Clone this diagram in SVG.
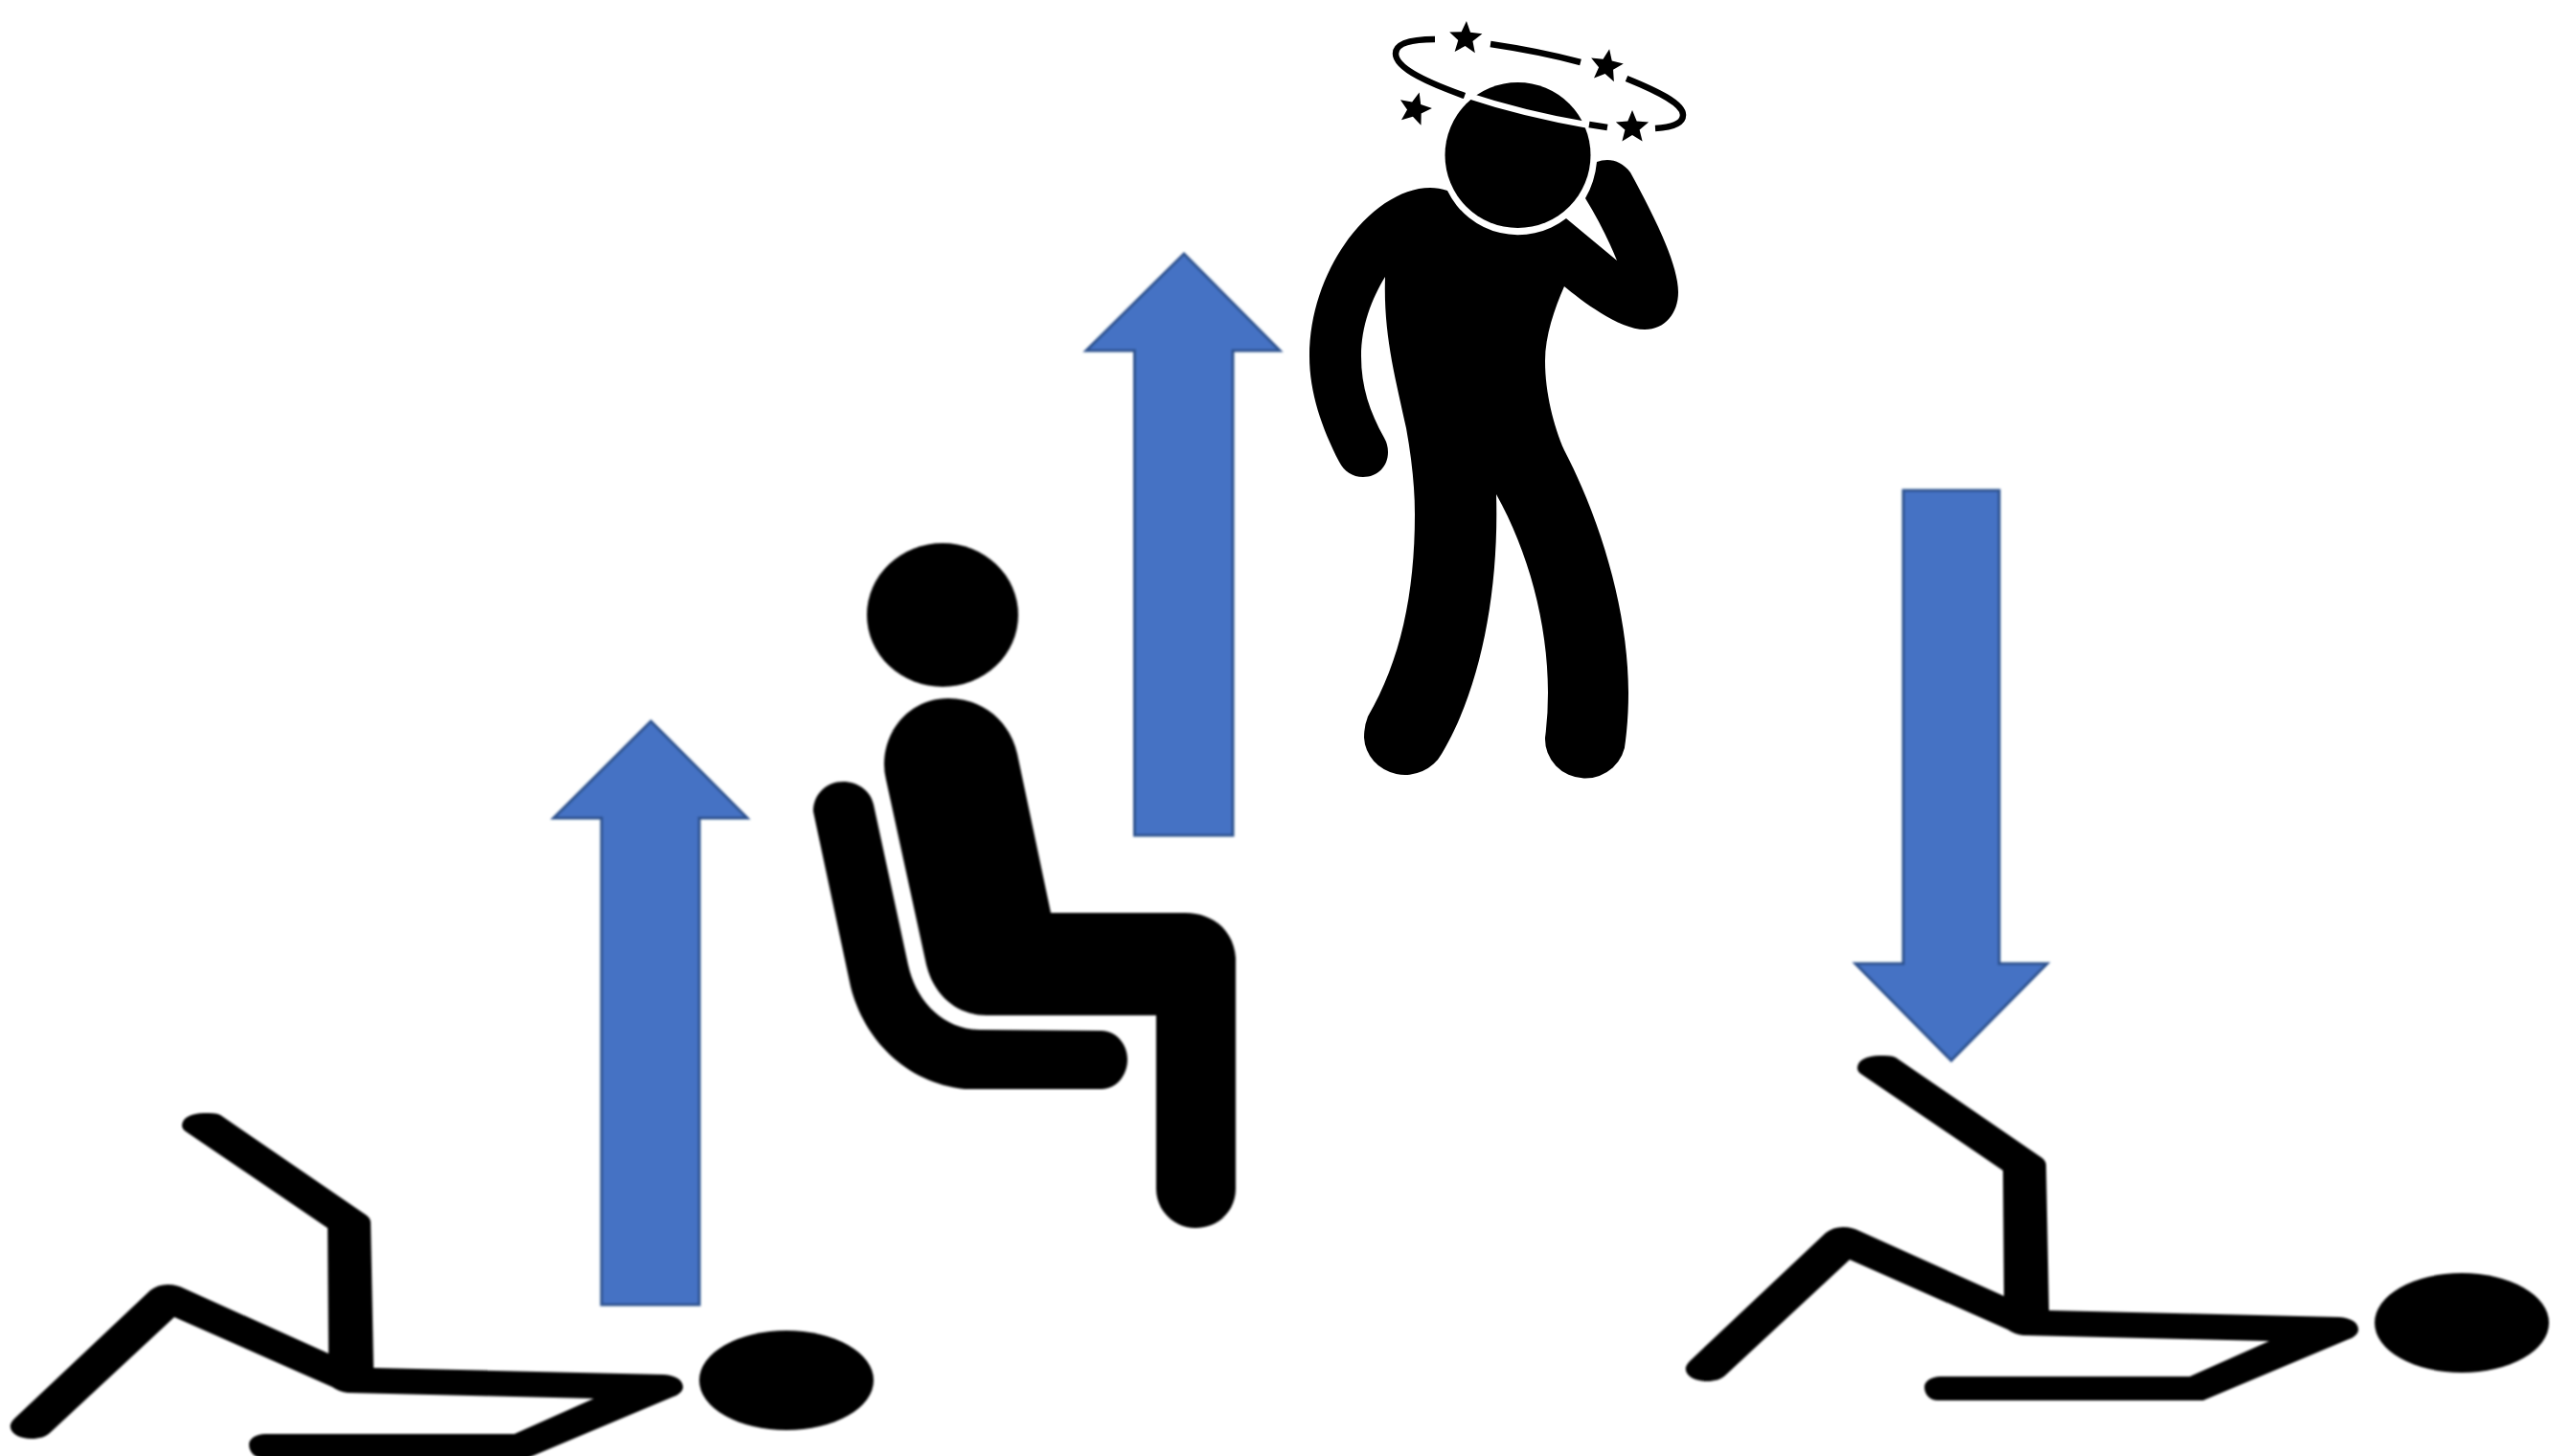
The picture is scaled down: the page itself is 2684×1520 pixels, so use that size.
<svg xmlns="http://www.w3.org/2000/svg" width="2684" height="1520" viewBox="0 0 2684 1520">
<style>
.ink{fill:#000}
.arrow{fill:#4472c4;stroke:#2f528f;stroke-width:3}
.ring{fill:none;stroke:#000;stroke-width:6.5}
.soft{filter:url(#soft)}
</style>
<defs>
<filter id="soft" x="-5%" y="-5%" width="110%" height="110%"><feGaussianBlur stdDeviation="0.8"/></filter>
<polygon id="star" points="0,-18 4.7,-6.5 17.1,-5.6 7.6,2.5 10.6,14.6 0,8 -10.6,14.6 -7.6,2.5 -17.1,-5.6 -4.7,-6.5"/>
<g id="lying" class="ink">
<path d="M190,1175 C190,1167 200,1162 213,1162 C220,1162 226,1162 230,1164 L383,1269 Q387,1272 387,1277 L390,1428 L693,1435 C706,1436 713,1441 713,1448 C713,1452 709,1456 703,1458 L551,1522 L274,1522 C266,1522 260,1516 260,1508 C260,1502 267,1497 277,1497 L537,1497 L620,1460 L363,1454 Q354,1453 347,1448 L182,1375 L53,1495 C48,1500 41,1502 33,1502 C20,1502 9,1496 11,1487 Q12,1484 15,1481 L157,1347 C162,1343 168,1341 175,1341 C182,1341 188,1343 192,1345 L343,1413 L342,1282 L195,1182 C192,1180 190,1178 190,1175 Z"/>
<ellipse cx="821" cy="1441" rx="91" ry="52"/>
</g>
</defs>
<rect width="2684" height="1520" fill="#fff"/>
<g id="connectors">
<polygon class="arrow soft" points="679.5,753 780,854 730,854 730,1362 628,1362 628,854 578,854"/>
<polygon class="arrow soft" points="1236,265 1336,366 1287,366 1287,872 1184.5,872 1184.5,366 1134,366"/>
<polygon class="arrow soft" points="1987,512 2087,512 2087,1006 2137,1006 2037,1107 1937,1006 1987,1006"/>
</g>
<g id="person-lying-left" class="soft"><use href="#lying"/></g>
<g id="person-lying-right" class="soft"><use href="#lying" transform="translate(1749,-60)"/></g>
<g id="person-seated" class="ink soft">
<ellipse cx="984" cy="642" rx="79" ry="75"/>
<path d="M1097,953 L1062,787 C1054,752 1025,729 990,729 C952,729 923,760 923,798 Q923,806 925,814 L967,1007 C975,1040 1000,1060 1030,1060 L1207,1060 L1207,1241 C1207,1264 1226,1282 1248,1282 C1272,1282 1290,1264 1290,1241 L1290,1000 C1288,972 1267,953 1237,953 Z"/>
<path d="M849,847 C849,829 863,816 880,816 C896,816 909,826 912,840 L948,1007 C956,1045 985,1075 1023,1075 L1150,1076 C1165,1076 1177,1090 1177,1106 C1177,1123 1165,1137 1150,1137 L1007,1137 C945,1130 902,1085 888,1030 Z"/>
</g>
<g id="person-dizzy">
<circle class="ink" cx="1584.5" cy="162" r="76"/>
<path d="M1530,99 Q1590,119 1660,131" fill="none" stroke="#fff" stroke-width="6.5"/>
<path class="ink" d="M1511,199 C1505,197 1499,196 1493,196 C1435,196 1367,278 1367,372 C1367,410 1380,447 1398,482 C1403,492 1412,498 1423,498 C1438,498 1449,487 1449,472 Q1449,464 1445,457 C1430,430 1421,404 1421,372 C1421,340 1432,312 1446,289 C1444,350 1457,395 1468,447 C1474,480 1477,510 1477,537 C1477,620 1462,690 1428,748 Q1424,758 1424,770 A43,41 0 0 0 1505,787 C1545,720 1565,620 1562,516 C1595,575 1616,650 1616,723 Q1616,748 1613,770 A42,41 0 0 0 1697,773 C1699,757 1700,740 1700,723 C1700,640 1672,545 1633,470 C1622,445 1613,410 1613,377 C1613,350 1623,322 1633,299 C1650,313 1690,344 1717,344 C1738,344 1752,327 1752,305 C1752,275 1725,222 1702,180 C1695,171 1687,167 1678,167 Q1672,167 1667,169 Q1665,190 1655,207 C1668,228 1680,252 1688,272 L1635,228 A82,82 0 0 1 1511,199 Z"/>
<path class="ring" d="M1498,41 C1470,41 1457,46 1457,56 C1457,72 1495,88 1529,100"/>
<path class="ring" d="M1556,46 C1590,51 1620,57 1650,65"/>
<path class="ring" d="M1698,82 C1730,95 1757,108 1757,120 C1757,129 1745,133 1728,134"/>
<path class="ring" d="M1659,130 L1678,133"/>
<use href="#star" class="ink" transform="translate(1530,40) rotate(3)"/>
<use href="#star" class="ink" transform="translate(1677,69) rotate(10)"/>
<use href="#star" class="ink" transform="translate(1704,133)"/>
<use href="#star" class="ink" transform="translate(1477,114) rotate(15)"/>
</g>
</svg>
